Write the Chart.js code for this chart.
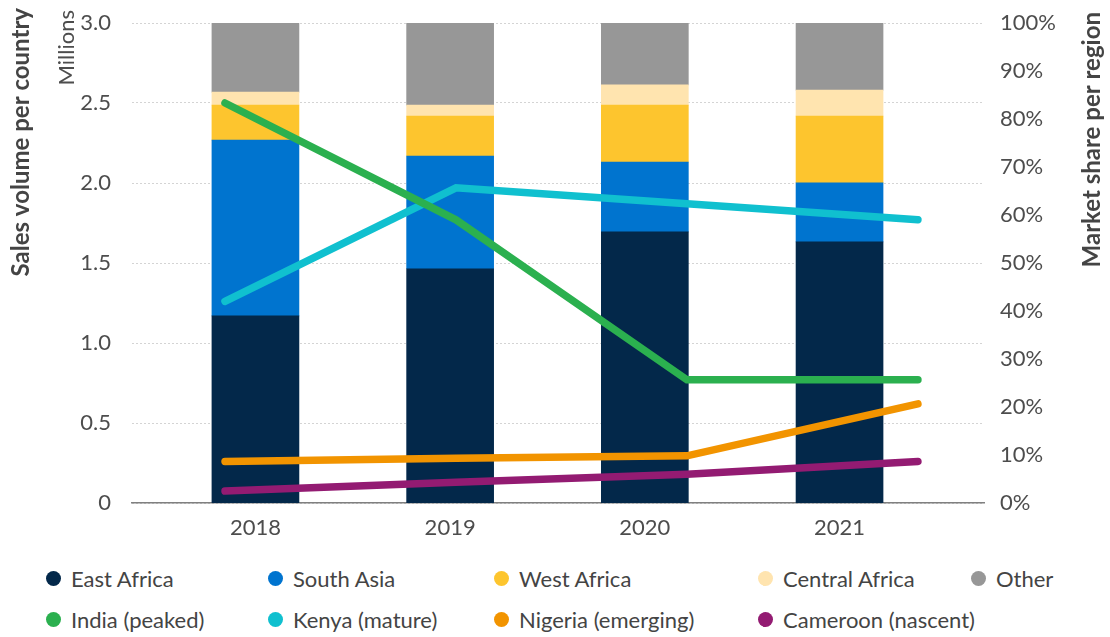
<!DOCTYPE html>
<html>
<head>
<meta charset="utf-8">
<script src="https://cdn.jsdelivr.net/npm/chart.js@4"></script>
<style>
  body { margin: 0; background: #fff; font-family: Lato, "Noto Sans", sans-serif; }
  #wrap { position: relative; width: 1110px; height: 637px; }
  #legend {
    position: absolute; left: 46px; top: 558px;
    display: grid; grid-template-columns: 222px 226px 264px 213px auto; grid-auto-rows: 41px;
  }
  .item { display: flex; align-items: center; font-size: 22px; color: #444; white-space: nowrap; }
  .dot { width: 15px; height: 15px; border-radius: 50%; margin-right: 10px; flex: none; }
</style>
</head>
<body>
<div id="wrap">
  <canvas id="chart" width="1110" height="545"></canvas>
  <div id="legend"></div>
</div>
<script>
var years = ["2018", "2019", "2020", "2021"];

// market share per region (%), stacked bars, right axis
var eastAfrica = [39.0, 48.8, 56.5, 54.4];
var southAsia = [36.6, 23.5, 14.5, 12.3];
var westAfrica = [7.3, 8.3, 11.9, 13.9];
var centralAfrica = [2.7, 2.3, 4.2, 5.4];
var other = [14.4, 17.1, 12.9, 14.0];

// sales volume per country (millions), lines, left axis
var india = [2.5, 1.77, 0.77, 0.77];
var kenya = [1.26, 1.97, 1.87, 1.77];
var nigeria = [0.26, 0.28, 0.295, 0.62];
var cameroon = [0.075, 0.13, 0.18, 0.26];

var leftTicks = [0, 0.5, 1, 1.5, 2, 2.5, 3];

var textColor = "#4d4d4d";
var font = "Lato, 'Noto Sans', sans-serif";

function pts(arr) {
  return arr.map(function (v, i) { return { x: i, y: v }; });
}

function bar(label, data, color) {
  return {
    type: "bar", label: label, data: pts(data), backgroundColor: color,
    xAxisID: "x", yAxisID: "y1", stack: "regions", grouped: false,
    barThickness: 87, order: 2
  };
}

function line(label, data, color) {
  return {
    type: "line", label: label, data: pts(data), borderColor: color, backgroundColor: color,
    borderWidth: 7.5, borderCapStyle: "round", pointRadius: 0, tension: 0,
    xAxisID: "x2", yAxisID: "y", order: 1
  };
}

function noPad(s) {
  s.paddingTop = 0; s.paddingBottom = 0; s.paddingLeft = 0; s.paddingRight = 0;
}

// axis titles drawn by hand: left bold title, "Millions" unit, right title reads bottom-up
var axisTitles = {
  id: "axisTitles",
  afterDraw: function (chart) {
    var ctx = chart.ctx;
    function up(text, x, y, f, color) {
      ctx.save();
      ctx.translate(x, y);
      ctx.rotate(-Math.PI / 2);
      ctx.font = f;
      ctx.fillStyle = color;
      ctx.textAlign = "right";
      ctx.textBaseline = "alphabetic";
      ctx.fillText(text, 0, 0);
      ctx.restore();
    }
    up("Sales volume per country", 29, 8, "bold 24px " + font, "#444");
    up("Millions", 74, 10, "22px " + font, textColor);
    up("Market share per region", 1100, 12, "bold 24px " + font, "#444");
  }
};

var chart = new Chart(document.getElementById("chart"), {
  data: {
    datasets: [
      bar("East Africa", eastAfrica, "#03284a"),
      bar("South Asia", southAsia, "#0074cf"),
      bar("West Africa", westAfrica, "#fdc52e"),
      bar("Central Africa", centralAfrica, "#ffe4af"),
      bar("Other", other, "#979797"),
      line("India (peaked)", india, "#2bb04f"),
      line("Kenya (mature)", kenya, "#10c0cf"),
      line("Nigeria (emerging)", nigeria, "#f29400"),
      line("Cameroon (nascent)", cameroon, "#931b72")
    ]
  },
  options: {
    responsive: false,
    animation: false,
    layout: { padding: { top: 23, left: 0, right: 0, bottom: 0 } },
    plugins: { legend: { display: false }, tooltip: { enabled: false } },
    scales: {
      x: {
        type: "linear", position: "bottom", stacked: true,
        offset: false, bounds: "data",
        min: -0.634, max: 3.742,
        afterBuildTicks: function (s) { s.ticks = years.map(function (y, i) { return { value: i }; }); },
        afterFit: function (s) { s.height = 42; noPad(s); },
        ticks: {
          padding: 12, color: textColor, font: { family: font, size: 22 },
          callback: function (v) { return years[v]; }
        },
        grid: { display: false, drawTicks: false, offset: false },
        border: { display: true, color: "#808080", width: 1.5 }
      },
      x2: { type: "linear", display: false, offset: false, bounds: "data", min: -0.4026, max: 3.286 },
      y: {
        position: "left", min: 0, max: 3,
        afterBuildTicks: function (s) { s.ticks = leftTicks.map(function (v) { return { value: v }; }); },
        afterFit: function (s) { s.width = 132; noPad(s); },
        ticks: {
          padding: 21, color: textColor, font: { family: font, size: 22 },
          callback: function (v) { return v === 0 ? "0" : v.toFixed(1); }
        },
        grid: { color: "#d4d4d4", lineWidth: 1, drawTicks: false },
        border: { display: false, dash: [2, 2] }
      },
      y1: {
        position: "right", min: 0, max: 100, stacked: true,
        afterFit: function (s) { s.width = 126; noPad(s); },
        ticks: {
          stepSize: 10, padding: 16, color: textColor, font: { family: font, size: 22 },
          callback: function (v) { return v + "%"; }
        },
        grid: { display: false, drawTicks: false },
        border: { display: false }
      }
    }
  },
  plugins: [axisTitles]
});

// html legend, built from the chart's datasets
var legend = document.getElementById("legend");
chart.data.datasets.forEach(function (d) {
  var item = document.createElement("div");
  item.className = "item";
  var dot = document.createElement("span");
  dot.className = "dot";
  dot.style.background = d.type === "bar" ? d.backgroundColor : d.borderColor;
  item.appendChild(dot);
  item.appendChild(document.createTextNode(d.label));
  legend.appendChild(item);
});
</script>
</body>
</html>
